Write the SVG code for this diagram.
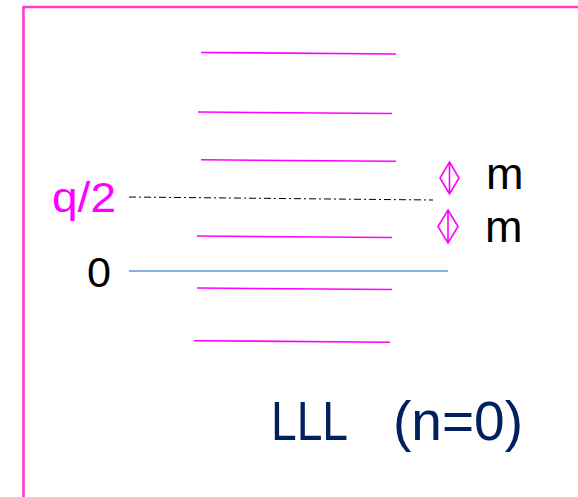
<svg xmlns="http://www.w3.org/2000/svg" width="578" height="497" viewBox="0 0 578 497">
<style>
.lvl{stroke:#FF00FF;stroke-width:1.6;fill:none}
.dia{stroke:#FF00FF;stroke-width:1.6;fill:none}
.t{font-family:"Liberation Sans",Arial,sans-serif}
</style>
<rect width="578" height="497" fill="#FFFFFF"/>
<g id="frame"><path d="M23.5,500 V7 H580" fill="none" stroke="#FF3CCF" stroke-width="2.6"/></g>
<g id="levels">
<line class="lvl" x1="201" y1="52.5" x2="396" y2="54"/>
<line class="lvl" x1="198" y1="112" x2="392" y2="113.5"/>
<line class="lvl" x1="201" y1="159.8" x2="396" y2="161.3"/>
<line class="lvl" x1="197" y1="236" x2="392" y2="237.5"/>
<line class="lvl" x1="197" y1="288" x2="392" y2="289.5"/>
<line class="lvl" x1="194" y1="340.7" x2="390" y2="342.2"/>
</g>
<g id="axes">
<line x1="129" y1="197" x2="433" y2="200" stroke="#000000" stroke-width="1" stroke-dasharray="7,3,2,3"/>
<line x1="129" y1="271" x2="448" y2="271" stroke="#5B9BD5" stroke-width="1.3"/>
</g>
<g id="diamonds">
<path class="dia" d="M449.5,162 L459,178 L449.5,194 L440,178 Z M449.5,162 V194"/>
<path class="dia" d="M448,210 L458,226.5 L448,243 L438,226.5 Z M448,210 V243"/>
</g>
<g id="labels" class="t">
<text x="52" y="212" font-size="42" fill="#FF00FF" textLength="64" lengthAdjust="spacingAndGlyphs">q/2</text>
<text x="87" y="287" font-size="42" fill="#000000" textLength="24" lengthAdjust="spacingAndGlyphs">0</text>
<text x="486" y="189" font-size="45" fill="#000000">m</text>
<text x="485" y="242" font-size="45" fill="#000000">m</text>
<text x="271" y="440" font-size="56" fill="#002060" textLength="77" lengthAdjust="spacingAndGlyphs">LLL</text>
<text x="393" y="440" font-size="56" fill="#002060" textLength="130" lengthAdjust="spacingAndGlyphs">(n=0)</text>
</g>
</svg>
